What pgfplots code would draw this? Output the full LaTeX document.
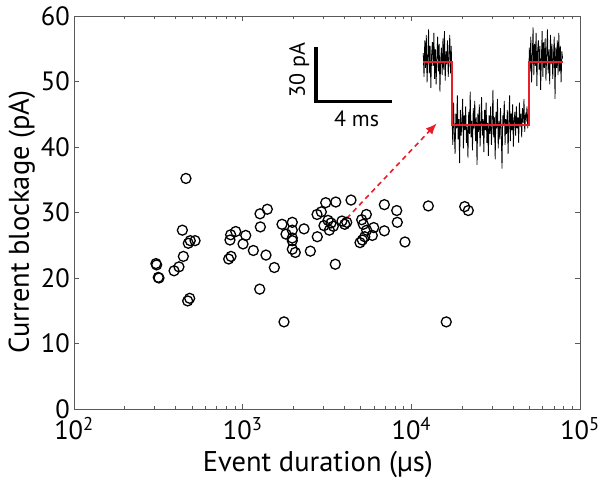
\documentclass[border=0pt]{standalone}
\usepackage{fontspec}
\setmainfont{PT Sans}
\usepackage{pgfplots}
\pgfplotsset{compat=1.18}
\usepackage{pgfplotstable}
\usetikzlibrary{arrows.meta}

\definecolor{stepred}{RGB}{232,30,40}
\definecolor{axgray}{RGB}{90,90,90}

% event duration (us) vs current blockage (pA)
\pgfplotstableread{
dur blk
461 35.2
306 22.2
309 22.0
319 20.0
316 20.1
392 21.1
419 21.7
445 23.3
439 27.3
476 25.3
489 25.7
522 25.7
472 16.5
485 16.9
826 22.9
853 23.3
841 25.8
849 26.6
910 27.1
1005 25.2
1043 26.5
1157 24.2
1267 29.8
1400 30.5
1273 27.8
1262 18.3
1375 23.5
1541 21.6
1711 28.2
1807 26.7
1969 28.5
1969 27.3
1969 26.1
1969 25.7
1969 24.4
2051 23.9
1758 13.3
2311 27.5
2519 24.1
2760 29.7
2927 30.1
3107 31.5
2769 26.3
3564 31.6
3541 22.1
3034 28.0
3205 28.8
3265 27.3
3342 28.4
3448 27.9
3880 28.7
4027 28.2
4140 28.5
4389 31.9
5078 28.9
5411 29.7
5191 28.2
5435 27.3
5294 26.3
5122 25.8
4962 25.4
5871 26.5
5985 27.7
6919 31.2
6919 27.2
8190 30.3
8255 28.5
9166 25.5
12610 31.0
20720 30.9
21760 30.3
16110 13.3
}\events

% example event trace, pA relative to open level, 0.04 ms per sample
\pgfplotstableread[row sep=\\,header=false]{
5\\ -8\\ 12\\ -3\\ 15\\ -11\\ 2\\ 18\\ -6\\ 9\\
-14\\ 4\\ 11\\ -2\\ 16\\ -9\\ 7\\ -12\\ 3\\ 14\\
-5\\ 10\\ -16\\ 1\\ 8\\ -7\\ 13\\ -4\\ 17\\ -10\\
6\\ -1\\ 12\\ -8\\ 4\\ 15\\ -6\\ 9\\
-30\\ -45\\ -22\\ -38\\ -50\\ -28\\ -36\\ -18\\ -42\\ -31\\
-55\\ -26\\ -40\\ -33\\ -20\\ -47\\ -29\\ -37\\ -24\\ -44\\
-35\\ -52\\ -27\\ -39\\ -16\\ -41\\ -32\\ -48\\ -25\\ -36\\
-21\\ -43\\ -30\\ -56\\ -28\\ -38\\ -23\\ -46\\ -34\\ -19\\
-40\\ -31\\ -49\\ -26\\ -37\\ -22\\ -44\\ -33\\ -51\\ -29\\
-39\\ -24\\ -45\\ -35\\ -15\\ -41\\ -30\\ -53\\ -27\\ -36\\
-20\\ -47\\ -32\\ -42\\ -25\\ -38\\ -58\\ -29\\ -34\\ -21\\
-45\\ -31\\ -39\\ -26\\ -50\\ -33\\ -18\\ -43\\ -28\\ -37\\
-23\\ -46\\ -32\\ -27\\ -40\\ -24\\ -36\\ -30\\ -44\\ -22\\
-35\\ -28\\ -41\\ -25\\ -33\\ -20\\ -38\\ -29\\ -31\\ -24\\
-36\\ -27\\
8\\ -5\\ 14\\ -11\\ 3\\ 19\\ -7\\ 10\\ -2\\ 16\\
-13\\ 6\\ 12\\ -4\\ 9\\ -15\\ 2\\ 17\\ -8\\ 11\\
-3\\ 13\\ -10\\ 5\\ 18\\ -6\\ 7\\ -12\\ 15\\ -1\\
10\\ -9\\ 4\\ 14\\ -20\\ 8\\ -3\\ 12\\ -7\\ 16\\
-5\\ 9\\ -11\\ 6\\ 2\\
}\trace

\begin{document}
\begin{tikzpicture}
\useasboundingbox (-74pt,-79pt) rectangle (528pt,409pt);
\begin{axis}[
    at={(0,0)}, anchor=south west,
    scale only axis, width=506pt, height=393pt,
    xmode=log, xmin=100, xmax=100000, ymin=0, ymax=60,
    xtick={100,1000,10000,100000},
    xticklabels={10\textsuperscript{2},10\textsuperscript{3},10\textsuperscript{4},10\textsuperscript{5}},
    ytick={0,10,...,60},
    /pgf/number format/assume math mode=true,
    tick align=inside,
    major tick length=5pt, minor tick length=3pt,
    axis line style={axgray, line width=0.6pt},
    every tick/.style={axgray, line width=0.6pt},
    tick label style={font=\fontsize{26.5}{30}\selectfont, black},
    xticklabel style={yshift=-8pt, inner sep=0pt},
    yticklabel style={xshift=-4pt, inner sep=0pt},
    label style={font=\fontsize{28.5}{32}\selectfont},
    xlabel={Event duration (µs)},
    ylabel={Current blockage (pA)},
    xlabel style={at={(rel axis cs:0.482,-0.158)}, anchor=base},
    ylabel style={at={(rel axis cs:-0.103,0.476)}, anchor=center},
    clip=false,
]
\addplot[only marks, mark=o, mark size=5pt, mark options={line width=1.3pt}, black] table[x=dur, y=blk] {\events};
\addplot[stepred, line width=1.6pt, dash pattern=on 5pt off 4pt, -{Latex[length=11pt,width=9pt]}] coordinates {(4140,29.1) (14130,43.6)};
\end{axis}
\begin{axis}[
    at={(0,0)}, anchor=south west,
    scale only axis, width=506pt, height=393pt,
    hide axis, clip=false,
    xmin=-18.45, xmax=8.28, ymin=-189.14, ymax=25.26,
]
\addplot[black, line width=0.8pt] table[x expr=\coordindex*0.04, y index=0] {\trace};
\addplot[stepred, line width=1.8pt] coordinates {(0,0) (1.50,0) (1.50,-34) (5.58,-34) (5.58,0) (7.36,0)};
\draw[line width=3.2pt] (axis cs:-5.67,8.5) -- (axis cs:-5.67,-21.5) -- (axis cs:-1.67,-21.5);
\node[rotate=90, font=\fontsize{22}{26}\selectfont] at (axis cs:-6.55,-4.2) {30 pA};
\node[font=\fontsize{22}{26}\selectfont] at (axis cs:-3.52,-30.6) {4 ms};
\end{axis}
\end{tikzpicture}
\end{document}
